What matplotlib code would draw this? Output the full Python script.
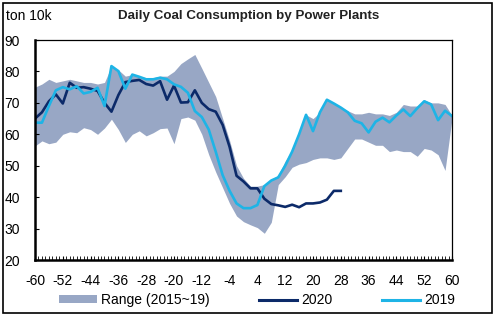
import numpy as np
import matplotlib
matplotlib.use("Agg")
import matplotlib.pyplot as plt
from matplotlib.patches import Patch, Rectangle
from matplotlib.lines import Line2D
from matplotlib.ticker import MultipleLocator

plt.rcParams['font.family'] = ['Liberation Sans', 'DejaVu Sans']
plt.rcParams['axes.unicode_minus'] = False

# Week offsets relative to the Lunar New Year
weeks = np.arange(-60, 61, 2)
weeks_2020 = np.arange(-60, 29, 2)

range_upper = [75.0, 76.0, 77.5, 76.5, 77.0, 77.5, 77.0, 76.5, 76.5, 76.0,
               76.5, 81.7, 80.5, 78.5, 79.0, 78.5, 78.0, 78.0, 78.5, 78.5,
               80.0, 82.5, 84.0, 85.4, 81.0, 76.5, 72.0, 65.0, 58.0, 50.0,
               46.0, 43.5, 43.5, 44.0, 45.5, 47.0, 51.5, 55.0, 60.0, 66.2,
               65.0, 67.0, 71.0, 70.0, 68.5, 67.5, 66.5, 66.5, 67.0, 66.5,
               66.5, 66.0, 67.0, 69.5, 69.0, 69.0, 71.0, 70.0, 70.0, 69.5,
               66.0]

range_lower = [56.3, 57.9, 57.0, 57.5, 60.0, 60.8, 60.5, 62.1, 61.5, 60.0,
               62.0, 64.8, 61.5, 57.4, 60.0, 61.1, 59.5, 60.5, 61.8, 62.0,
               57.0, 65.0, 65.5, 64.5, 60.0, 53.5, 48.0, 43.0, 38.0, 34.0,
               32.2, 31.2, 30.3, 28.5, 32.0, 44.0, 46.5, 49.5, 50.5, 51.0,
               52.0, 52.5, 52.5, 52.0, 52.5, 55.5, 58.5, 58.5, 57.5, 56.5,
               56.5, 54.5, 55.0, 54.5, 54.5, 53.0, 55.5, 55.0, 53.5, 48.5,
               65.0]

series_2019 = [63.7, 63.7, 69.0, 74.0, 75.0, 74.3, 75.3, 73.0, 73.5, 74.8,
               69.0, 81.7, 80.1, 74.5, 79.0, 78.3, 77.5, 77.5, 78.0, 77.5,
               75.9, 75.1, 73.2, 67.4, 65.5, 61.5, 54.5, 47.0, 42.0, 38.0,
               36.5, 36.5, 37.5, 43.5, 45.3, 46.3, 50.0, 54.5, 60.0, 66.2,
               61.0, 67.0, 71.0, 69.8, 68.5, 67.0, 64.3, 63.5, 60.6, 64.0,
               65.3, 63.8, 66.0, 67.9, 65.8, 68.3, 70.5, 69.5, 64.5, 67.5,
               65.8]

series_2020 = [65.0, 67.0, 70.5, 72.7, 69.8, 76.4, 74.8, 75.0, 74.5, 73.8,
               70.0, 67.2, 72.5, 76.6, 77.0, 77.3, 76.0, 75.5, 76.9, 71.0,
               75.5, 70.1, 70.2, 74.0, 70.0, 68.0, 67.2, 63.0, 56.0, 46.8,
               45.0, 42.8, 42.8, 39.5, 37.8, 37.4, 36.9, 37.6, 36.8, 38.0,
               38.0, 38.3, 39.2, 42.0, 42.0]

x_ticks = np.arange(-60, 61, 8)
y_ticks = np.arange(20, 91, 10)

band_color = '#98a7c5'
navy = '#0c2a69'
cyan = '#1eb4e6'

fig = plt.figure(figsize=(5.0, 3.24), dpi=100)
ax = fig.add_axes([0.07, 0.1975, 0.834, 0.679])

ax.fill_between(weeks, range_lower, range_upper, color=band_color, lw=0)
ax.plot(weeks_2020, series_2020, color=navy, lw=1.9, solid_joinstyle='round')
ax.plot(weeks, series_2019, color=cyan, lw=1.9, solid_joinstyle='round')

ax.set_xlim(-60, 60)
ax.set_ylim(20, 90)
ax.set_xticks(x_ticks)
ax.set_yticks(y_ticks)
ax.xaxis.set_minor_locator(MultipleLocator(1))
ax.tick_params(axis='both', which='both', direction='in', labelsize=10, color='black')
ax.tick_params(axis='x', which='major', length=3, width=0.8, pad=10)
ax.tick_params(axis='x', which='minor', length=3, width=0.6)
ax.tick_params(axis='y', which='major', length=3, width=0.8, pad=11)

for side in ('left', 'bottom'):
    ax.spines[side].set_linewidth(1.8)
for side in ('top', 'right'):
    ax.spines[side].set_linewidth(0.9)

fig.text(0.012, 0.951, 'ton 10k', fontsize=10, va='center', ha='left')
fig.text(0.497, 0.951, 'Daily Coal Consumption by Power Plants', fontsize=9.6,
         fontweight='bold', va='center', ha='center', color='#222222')

handles = [Patch(facecolor=band_color, edgecolor='none', label='Range (2015~19)'),
           Line2D([], [], color=navy, lw=2.2, label='2020'),
           Line2D([], [], color=cyan, lw=2.2, label='2019')]
fig.legend(handles=handles, loc='center', bbox_to_anchor=(0.514, 0.074), ncol=3,
           frameon=False, fontsize=10, handlelength=2.7, handleheight=0.5,
           handletextpad=0.3, columnspacing=3.6, borderaxespad=0)

fig.add_artist(Rectangle((0.006, 0.034), 0.978, 0.957, transform=fig.transFigure,
                         fill=False, edgecolor='black', lw=1.2))

fig.savefig('out.png', dpi=100)
